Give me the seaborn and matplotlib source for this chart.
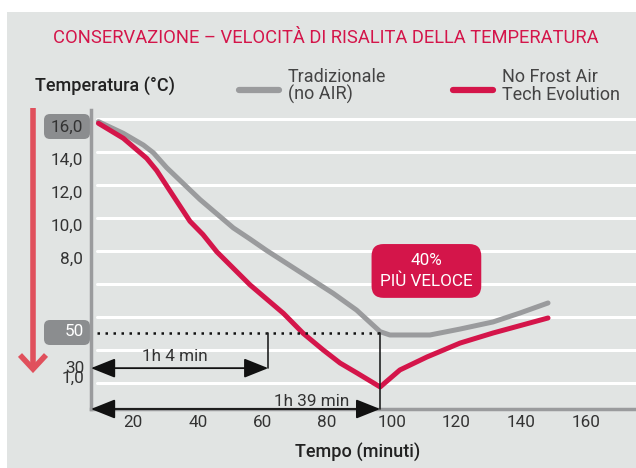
import numpy as np
import pandas as pd
import seaborn as sns
import matplotlib
matplotlib.use("Agg")
import matplotlib.pyplot as plt
from matplotlib.lines import Line2D
from matplotlib.patches import Rectangle, FancyBboxPatch
import matplotlib.transforms as mtransforms

# ---------------- data ----------------
gray_minutes = [9.3, 17.0, 23.2, 26.3, 30.4, 37.6, 40.7, 51.0, 56.2, 61.3, 71.6, 81.9,
                89.1, 96.4, 99.4, 111.8, 121.1, 131.3, 139.6, 148.3]
gray_temp = [15.84, 15.13, 14.42, 13.95, 13.05, 11.70, 11.12, 9.40, 8.72, 8.03, 6.73, 5.43,
             4.42, 3.11, 2.91, 2.91, 3.27, 3.70, 4.24, 4.85]
red_minutes = [9.3, 17.0, 24.2, 27.3, 31.4, 37.6, 41.6, 45.9, 56.2, 66.5, 72.6, 78.8,
               84.0, 89.2, 96.4, 102.5, 110.9, 121.1, 131.3, 148.3]
red_temp = [15.74, 14.83, 13.62, 12.88, 11.65, 9.80, 9.00, 7.95, 5.94, 4.22, 3.01, 2.00,
            1.21, 0.61, -0.24, 0.79, 1.58, 2.42, 3.03, 3.94]
series_names = ["Tradizionale\n(no AIR)", "No Frost Air\nTech Evolution"]
x_ticks = [20, 40, 60, 80, 100, 120, 140, 160]
y_ticks = [16, 14, 12, 10, 8]
y_tick_labels = ["16,0", "14,0", "12,0", "10,0", "8,0"]
grid_levels = [0, 2, 4, 6, 8, 10, 12, 14, 16]
level_50 = 3.0
level_30 = 0.9
level_10 = 0.3
t_short = 61.8      # end of "1h 4 min"
t_long = 96.4       # end of "1h 39 min"
t_start = 7.0

GRAY = "#9a9b9d"
RED = "#d4154a"
BG = "#e1e4e3"
BOX = "#8b8d8f"
TXT = "#333333"
FS = 12.3

df = pd.concat([
    pd.DataFrame({"Tempo": gray_minutes, "Temp": gray_temp, "Serie": series_names[0]}),
    pd.DataFrame({"Tempo": red_minutes, "Temp": red_temp, "Serie": series_names[1]}),
])

sns.set_theme(style="white")
plt.rcParams["font.family"] = ["Roboto", "DejaVu Sans"]

W, H = 636, 468
fig = plt.figure(figsize=(W / 100, H / 100), dpi=100)
fig.patch.set_facecolor("white")
fig.add_artist(Rectangle((7 / W, 0), 1, 1 - 12 / H, transform=fig.transFigure,
                         facecolor=BG, edgecolor="none", zorder=-5))

def fx(px):
    return px / W

def fy(py):
    return 1 - py / H

ax = fig.add_axes([fx(91), fy(409), (636 - 91) / W, (409 - 110) / H])
ax.set_facecolor("none")
ax.set_zorder(1)

for lv in grid_levels:
    ax.axhline(lv, color="white", lw=2.2, xmin=0.011, zorder=1)

sns.lineplot(data=df, x="Tempo", y="Temp", hue="Serie", palette=[GRAY, RED],
             hue_order=series_names, lw=3.6, ax=ax, legend=False, sort=False,
             zorder=3, solid_capstyle="round", solid_joinstyle="round")

ax.set_xlim(t_start, 175.5)
ax.set_ylim(-1.576, 16.545)

for s in ["top", "right"]:
    ax.spines[s].set_visible(False)
for s in ["left", "bottom"]:
    ax.spines[s].set_color(GRAY)
    ax.spines[s].set_linewidth(2.5)

ax.set_xticks(x_ticks)
ax.set_xticklabels([str(v) for v in x_ticks])
ax.set_yticks(y_ticks)
ax.set_yticklabels(y_tick_labels)
ax.tick_params(axis="both", length=0, labelsize=FS, labelcolor=TXT)
ax.tick_params(axis="x", pad=4)
ax.tick_params(axis="y", pad=6)
off = mtransforms.ScaledTranslation(0, -7 / 100, fig.dpi_scale_trans)
for lab in ax.get_yticklabels():
    lab.set_transform(lab.get_transform() + off)
ax.set_xlabel("")
ax.set_ylabel("")

# grey label boxes (pixel coordinates, drawn behind the labels)
pix = mtransforms.IdentityTransform()
for top, bot in [(114, 139), (320, 345)]:
    fig.add_artist(FancyBboxPatch((44, H - bot), 46, bot - top,
                                  boxstyle="round,pad=0,rounding_size=6",
                                  transform=pix, facecolor=BOX, edgecolor="none",
                                  zorder=0.5))

ytr = ax.get_yaxis_transform()
ax.text(-0.012, level_50 + 0.1, "50", transform=ytr, ha="right", va="center",
        fontsize=FS, color="white", clip_on=False)
ax.text(-0.012, level_30, "30", transform=ytr, ha="right", va="center",
        fontsize=FS, color=TXT, clip_on=False)
ax.text(-0.012, level_10, "1,0", transform=ytr, ha="right", va="center",
        fontsize=FS, color=TXT, clip_on=False)

# dotted reference
ax.plot([9.0, t_long], [level_50, level_50], color="#111111", lw=1.8,
        ls=(0, (1, 2.2)), zorder=4)
# verticals
ax.plot([t_short, t_short], [level_50, level_30], color="#222222", lw=1.2, zorder=4)
ax.plot([t_long, t_long], [level_50, -1.576], color="#222222", lw=1.2, zorder=4,
        clip_on=False)
# arrows
ap = dict(arrowstyle="<|-|>,head_length=0.75,head_width=0.3", color="#111111",
          lw=1.3, shrinkA=0, shrinkB=0, mutation_scale=20)
ax.annotate("", xy=(t_short, level_30), xytext=(t_start, level_30), arrowprops=ap,
            zorder=5, annotation_clip=False)
ax.annotate("", xy=(t_long, -1.576), xytext=(t_start, -1.576), arrowprops=ap,
            zorder=5, annotation_clip=False)
ax.text(33.0, 1.58, "1h 4 min", ha="center", va="center", fontsize=FS, color=TXT)
ax.text(75.3, -1.12, "1h 39 min", ha="center", va="center", fontsize=FS, color=TXT)

# callout
ax.text(110.7, 6.79, "40%\nPIÙ VELOCE", ha="center", va="center", fontsize=FS,
        color="white", linespacing=1.5, zorder=6,
        bbox=dict(boxstyle="round,pad=0.5,rounding_size=0.7", facecolor=RED,
                  edgecolor="none"))

# left red arrow
ARR = "#e0505c"
fig.add_artist(Line2D([fx(33), fx(33)], [fy(108), fy(368)], color=ARR, lw=4,
                      solid_capstyle="butt"))
fig.add_artist(Line2D([fx(20), fx(33), fx(46)], [fy(355), fy(369), fy(355)], color=ARR,
                      lw=4, solid_joinstyle="miter", solid_capstyle="butt"))

# title & labels
fig.text(fx(326), fy(38), "CONSERVAZIONE – VELOCITÀ DI RISALITA DELLA TEMPERATURA",
         ha="center", va="center", fontsize=13.2, color=RED)
fig.text(fx(35), fy(87), "Temperatura (°C)", ha="left", va="center", fontsize=13,
         color="#222222", fontweight="medium")
fig.text(fx(358), fy(452), "Tempo (minuti)", ha="center", va="center", fontsize=13,
         color="#222222", fontweight="medium")

# legend
fig.add_artist(Line2D([fx(239), fx(279)], [fy(90), fy(90)], color=GRAY, lw=4.5,
                      solid_capstyle="round"))
fig.add_artist(Line2D([fx(453), fx(493)], [fy(90), fy(90)], color=RED, lw=4.5,
                      solid_capstyle="round"))
fig.text(fx(288), fy(86), series_names[0], ha="left", va="center", fontsize=13,
         color="#444444", linespacing=0.95)
fig.text(fx(502), fy(86), series_names[1], ha="left", va="center", fontsize=13,
         color="#444444", linespacing=0.95)

fig.savefig("out.png", dpi=100)
